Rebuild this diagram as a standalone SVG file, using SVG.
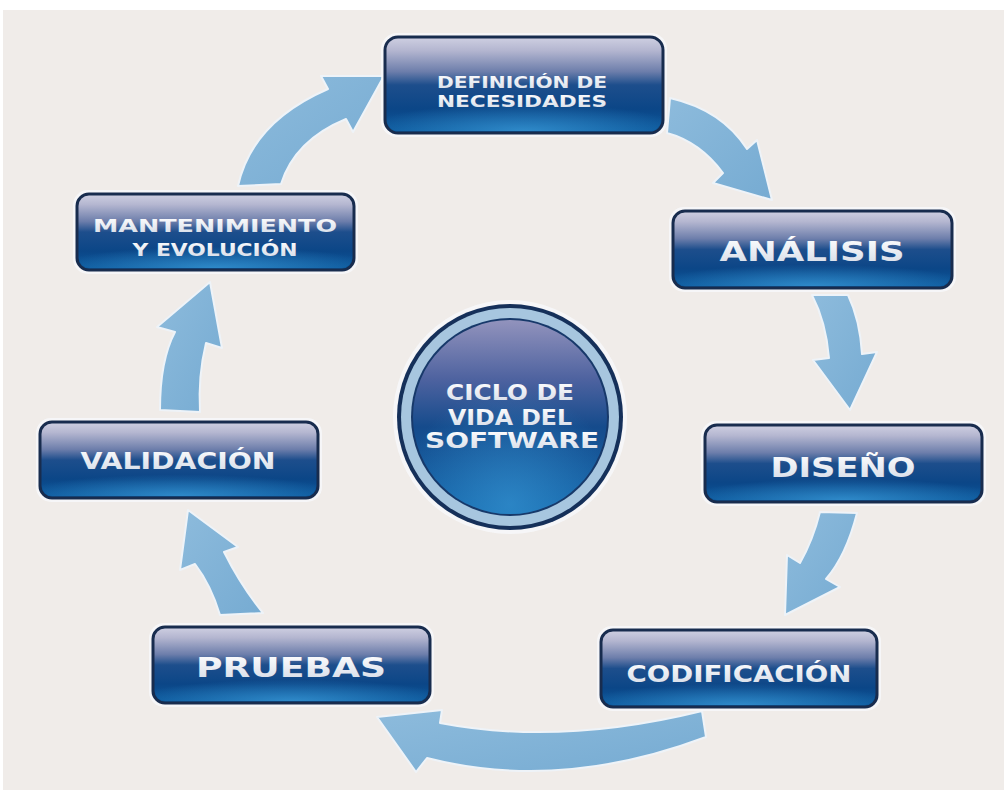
<svg xmlns="http://www.w3.org/2000/svg" width="1004" height="790" viewBox="0 0 1004 790">
<defs>
<linearGradient id="nodeGrad" x1="0" y1="0" x2="0" y2="1">
<stop offset="0" stop-color="#cfd0e2"/>
<stop offset="0.14" stop-color="#b4b6d0"/>
<stop offset="0.36" stop-color="#6d7eab"/>
<stop offset="0.5" stop-color="#1d4e8c"/>
<stop offset="0.75" stop-color="#0b4687"/>
<stop offset="1" stop-color="#0c5a9e"/>
</linearGradient>
<radialGradient id="nodeGlow" cx="0.5" cy="1" r="0.6" fx="0.5" fy="1">
<stop offset="0" stop-color="#3a9ad8" stop-opacity="0.75"/>
<stop offset="1" stop-color="#3a9ad8" stop-opacity="0"/>
</radialGradient>
<radialGradient id="discGlow" cx="0.5" cy="0.9" r="0.55" fx="0.5" fy="0.95">
<stop offset="0" stop-color="#3a9ad8" stop-opacity="0.6"/>
<stop offset="1" stop-color="#3a9ad8" stop-opacity="0"/>
</radialGradient>
<linearGradient id="discGrad" x1="0" y1="0" x2="0" y2="1">
<stop offset="0" stop-color="#9293bd"/>
<stop offset="0.3" stop-color="#4f63a0"/>
<stop offset="0.55" stop-color="#154b8c"/>
<stop offset="1" stop-color="#1467ab"/>
</linearGradient>
<linearGradient id="textGrad" x1="0" y1="0" x2="0" y2="1">
<stop offset="0" stop-color="#ffffff"/>
<stop offset="1" stop-color="#d3dae6"/>
</linearGradient>
<linearGradient id="arrowGrad" x1="0" y1="0" x2="1" y2="1">
<stop offset="0" stop-color="#8dbbdc"/>
<stop offset="1" stop-color="#76abd2"/>
</linearGradient>
</defs>
<style>
.halo{fill:#f8f9fb;opacity:0.8}
.box{fill:url(#nodeGrad);stroke:#182c4e;stroke-width:3}
.glow{fill:url(#nodeGlow)}
.lbl{font-family:"DejaVu Sans",sans-serif;font-weight:bold;fill:url(#textGrad);text-anchor:middle}
.arrow{fill:url(#arrowGrad);stroke:#eef3f8;stroke-width:2;stroke-linejoin:round}
</style>
<rect x="0" y="0" width="1004" height="790" fill="#ffffff"/>
<rect x="3" y="10" width="1001" height="780" fill="#f0ece9"/>

<g id="connectors">
<path class="arrow" d="M238,186 Q252,122 328,89 L321,76 L384,76 L353,132 L346,119 Q295,140 281,184 Z"/>
<path class="arrow" d="M670,98 Q722,110 747,149 L757,140 L772,200 L713,183 L723,173 Q700,142 667,133 Z"/>
<path class="arrow" d="M812,295 Q826,322 829,358 L813,360 L850,410 L877,352 L862,354 Q860,320 848,295 Z"/>
<path class="arrow" d="M820,512 L857,513 Q846,556 826,579 L840,587 L785,615 L787,555 L800,563 Q813,540 820,512 Z"/>
<path class="arrow" d="M702,711 Q560,746 440,723 L442,710 L377,717 L416,772 L427,758 Q560,792 706,737 Z"/>
<path class="arrow" d="M220,615 Q211,585 195,564 L180,570 L188,510 L238,547 L224,552 Q241,586 263,613 Z"/>
<path class="arrow" d="M160,410 Q160,360 175,332 L157,327 L210,282 L222,348 L206,343 Q198,376 200,412 Z"/>
</g>

<g id="node-definicion">
<rect class="halo" x="381" y="33" width="286" height="104" rx="16"/>
<rect class="box" x="385" y="37" width="278" height="96" rx="13"/>
<rect class="glow" x="387" y="85" width="274" height="46" rx="11"/>
<text class="lbl" x="522" y="88" font-size="16" textLength="170" lengthAdjust="spacingAndGlyphs">DEFINICIÓN DE</text>
<text class="lbl" x="522" y="107" font-size="16" textLength="170" lengthAdjust="spacingAndGlyphs">NECESIDADES</text>
</g>

<g id="node-analisis">
<rect class="halo" x="669" y="207" width="287" height="85" rx="15"/>
<rect class="box" x="673" y="211" width="279" height="77" rx="12"/>
<rect class="glow" x="675" y="250" width="275" height="36" rx="10"/>
<text class="lbl" x="812" y="261" font-size="26" textLength="185" lengthAdjust="spacingAndGlyphs">ANÁLISIS</text>
</g>

<g id="node-diseno">
<rect class="halo" x="701" y="421" width="285" height="85" rx="15"/>
<rect class="box" x="705" y="425" width="277" height="77" rx="12"/>
<rect class="glow" x="707" y="464" width="273" height="36" rx="10"/>
<text class="lbl" x="843" y="477" font-size="26" textLength="145" lengthAdjust="spacingAndGlyphs">DISEÑO</text>
</g>

<g id="node-codificacion">
<rect class="halo" x="597" y="626" width="284" height="85" rx="15"/>
<rect class="box" x="601" y="630" width="276" height="77" rx="12"/>
<rect class="glow" x="603" y="669" width="272" height="36" rx="10"/>
<text class="lbl" x="739" y="682" font-size="23" textLength="225" lengthAdjust="spacingAndGlyphs">CODIFICACIÓN</text>
</g>

<g id="node-pruebas">
<rect class="halo" x="149" y="623" width="285" height="84" rx="15"/>
<rect class="box" x="153" y="627" width="277" height="76" rx="12"/>
<rect class="glow" x="155" y="665" width="273" height="36" rx="10"/>
<text class="lbl" x="291" y="677" font-size="26" textLength="190" lengthAdjust="spacingAndGlyphs">PRUEBAS</text>
</g>

<g id="node-validacion">
<rect class="halo" x="36" y="418" width="286" height="84" rx="15"/>
<rect class="box" x="40" y="422" width="278" height="76" rx="12"/>
<rect class="glow" x="42" y="460" width="274" height="36" rx="10"/>
<text class="lbl" x="178" y="469" font-size="23" textLength="195" lengthAdjust="spacingAndGlyphs">VALIDACIÓN</text>
</g>

<g id="node-mantenimiento">
<rect class="halo" x="73" y="190" width="285" height="84" rx="15"/>
<rect class="box" x="77" y="194" width="277" height="76" rx="12"/>
<rect class="glow" x="79" y="232" width="273" height="36" rx="10"/>
<text class="lbl" x="215" y="232" font-size="17" textLength="244" lengthAdjust="spacingAndGlyphs">MANTENIMIENTO</text>
<text class="lbl" x="215" y="256" font-size="17" textLength="165" lengthAdjust="spacingAndGlyphs">Y EVOLUCIÓN</text>
</g>

<g id="node-center">
<circle cx="510" cy="417" r="117" fill="#f8f9fb" opacity="0.8"/>
<circle cx="510" cy="417" r="113" fill="#15305a"/>
<circle cx="510" cy="417" r="109" fill="#a7c6df"/>
<circle cx="510" cy="417" r="99" fill="#17396a"/>
<circle cx="510" cy="417" r="97" fill="url(#discGrad)"/>
<circle cx="510" cy="417" r="97" fill="url(#discGlow)"/>
<text class="lbl" x="510" y="400" font-size="21" textLength="128" lengthAdjust="spacingAndGlyphs">CICLO DE</text>
<text class="lbl" x="510" y="425" font-size="21" textLength="124" lengthAdjust="spacingAndGlyphs">VIDA DEL</text>
<text class="lbl" x="512" y="448" font-size="21" textLength="174" lengthAdjust="spacingAndGlyphs">SOFTWARE</text>
</g>
</svg>
